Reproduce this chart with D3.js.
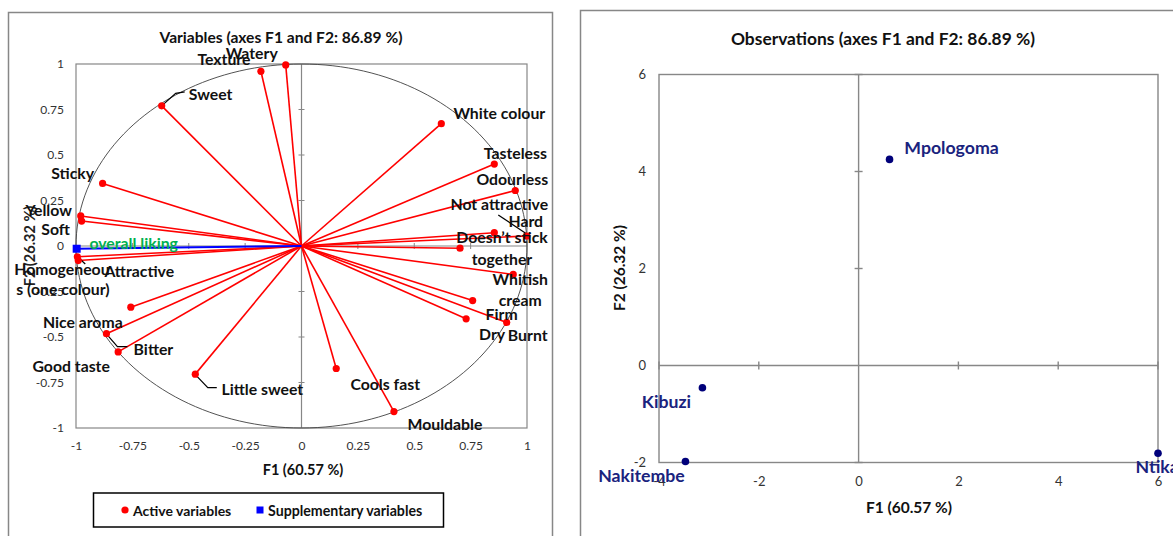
<!DOCTYPE html>
<html>
<head>
<meta charset="utf-8">
<style>
  body { margin: 0; background: #fff; }
  svg { display: block; font-family: Lato, "Liberation Sans", sans-serif; }
</style>
</head>
<body>
<svg id="chart" width="1173" height="536"></svg>
<script src="https://d3js.org/d3.v7.min.js"></script>
<script>
// ---- data ----
const varNames = ["Texture", "Watery", "Sweet", "White colour", "Tasteless", "Odourless",
  "Not attractive", "Hard", "Doesn\u2019t stick together", "Whitish cream", "Firm", "Dry",
  "Burnt", "Mouldable", "Cools fast", "Little sweet", "Good taste", "Bitter", "Nice aroma",
  "Homogeneous (one colour)", "Attractive", "Sticky", "Yellow", "Soft"];
const varF1 = [-0.18, -0.07, -0.62, 0.62, 0.855, 0.948, 0.855, 0.999, 0.703, 0.939, 0.759, 0.73,
  0.91, 0.41, 0.154, -0.471, -0.813, -0.865, -0.757, -0.994, -0.99, -0.882, -0.979, -0.975];
const varF2 = [0.96, 0.995, 0.77, 0.672, 0.45, 0.305, 0.073, 0.055, -0.012, -0.156, -0.30, -0.40,
  -0.42, -0.91, -0.673, -0.704, -0.582, -0.482, -0.336, -0.059, -0.08, 0.344, 0.165, 0.137];
const suppNames = ["overall liking"];
const suppF1 = [-0.997];
const suppF2 = [-0.015];
const obsNames = ["Mpologoma", "Kibuzi", "Nakitembe", "Ntika"];
const obsF1 = [0.62, -3.13, -3.47, 6.0];
const obsF2 = [4.25, -0.46, -1.98, -1.81];
const varTicks = [-1, -0.75, -0.5, -0.25, 0, 0.25, 0.5, 0.75, 1];
const obsXTicks = [-4, -2, 0, 2, 4, 6];
const obsYTicks = [-2, 0, 2, 4, 6];

// label placement (pixel offsets from each point), layout only
const varLabelPos = {
  "Texture": [[-37, -13, "Texture"]],
  "Watery": [[-34, -12, "Watery"]],
  "Sweet": [[49, -12, "Sweet"]],
  "White colour": [[58, -11, "White colour"]],
  "Tasteless": [[21, -12, "Tasteless"]],
  "Odourless": [[-3, -12, "Odourless"]],
  "Not attractive": [[5, -29, "Not attractive"]],
  "Hard": [[-1, -15, "Hard"]],
  "Doesn\u2019t stick together": [[42, -11.5, "Doesn\u2019t stick"], [42, 10, "together"]],
  "Whitish cream": [[7, 4, "Whitish"], [7, 25, "cream"]],
  "Firm": [[29, 13, "Firm"]],
  "Dry": [[26, 14.5, "Dry"]],
  "Burnt": [[21, 12.5, "Burnt"]],
  "Mouldable": [[51, 12, "Mouldable"]],
  "Cools fast": [[49, 15, "Cools fast"]],
  "Little sweet": [[67, 14, "Little sweet"]],
  "Good taste": [[-47, 14, "Good taste"]],
  "Bitter": [[47, 14.5, "Bitter"]],
  "Nice aroma": [[-48, 14, "Nice aroma"]],
  "Homogeneous (one colour)": [[-17, 11.5, "Homogeneou"], [-15, 31.5, "s (one colour)"]],
  "Attractive": [[61, 9.5, "Attractive"]],
  "Sticky": [[-30, -11, "Sticky"]],
  "Yellow": [[-32, -6, "Yellow"]],
  "Soft": [[-26, 7, "Soft"]]
};
const leaders = {
  "Sweet": [[0, 0], [14, -12.5], [23, -14]],
  "Hard": [[-28.5, -21], [0, -2]],
  "Little sweet": [[1, 1.5], [12.5, 13.5], [21.5, 13.5]],
  "Bitter": [[1, 1.5], [11, 13], [21, 13]],
  "Attractive": [[-1, -4], [7, 3.5]]
};
const obsLabelPos = { "Mpologoma": [62, -12, "middle"], "Kibuzi": [-36, 14, "middle"],
  "Nakitembe": [-44, 13.5, "middle"], "Ntika": [-22.5, 13, "start"] };

const svg = d3.select("#chart");
const gridCol = "#878787";
const plainNum = d => String(d);

// ---------------- left panel: variables ----------------
svg.append("rect").attr("x", 8.5).attr("y", 12.5).attr("width", 544).attr("height", 600)
  .attr("fill", "none").attr("stroke", gridCol).attr("stroke-width", 1.5);

const xV = d3.scaleLinear().domain([-1, 1]).range([76, 527]);
const yV = d3.scaleLinear().domain([-1, 1]).range([428, 64]);
const gV = svg.append("g");

gV.append("rect").attr("x", xV(-1)).attr("y", yV(1))
  .attr("width", xV(1) - xV(-1)).attr("height", yV(-1) - yV(1))
  .attr("fill", "none").attr("stroke", gridCol).attr("stroke-width", 1.2);
gV.append("line").attr("x1", xV(-1)).attr("x2", xV(1)).attr("y1", yV(0)).attr("y2", yV(0))
  .attr("stroke", gridCol).attr("stroke-width", 1.2);
gV.append("line").attr("x1", xV(0)).attr("x2", xV(0)).attr("y1", yV(-1)).attr("y2", yV(1))
  .attr("stroke", gridCol).attr("stroke-width", 1.2);
const innerV = varTicks.filter(t => t !== 0 && Math.abs(t) !== 1);
gV.selectAll("line.tx").data(innerV).enter().append("line")
  .attr("x1", d => xV(d)).attr("x2", d => xV(d)).attr("y1", yV(0) - 3).attr("y2", yV(0) + 3)
  .attr("stroke", gridCol);
gV.selectAll("line.ty").data(innerV).enter().append("line")
  .attr("y1", d => yV(d)).attr("y2", d => yV(d)).attr("x1", xV(0) - 3).attr("x2", xV(0) + 3)
  .attr("stroke", gridCol);

// correlation circle
const angles = d3.range(0, 361, 2).map(a => a * Math.PI / 180);
gV.append("path")
  .attr("d", d3.line().x(a => xV(Math.cos(a))).y(a => yV(Math.sin(a)))(angles))
  .attr("fill", "none").attr("stroke", "#404040").attr("stroke-width", 0.9);

// tick labels
const yAxisV = gV.append("g").attr("transform", `translate(${xV(-1)},0)`)
  .call(d3.axisLeft(yV).tickValues(varTicks).tickSize(0).tickPadding(12).tickFormat(plainNum));
const xAxisV = gV.append("g").attr("transform", `translate(0,${yV(-1)})`)
  .call(d3.axisBottom(xV).tickValues(varTicks).tickSize(0).tickPadding(13).tickFormat(plainNum));
[yAxisV, xAxisV].forEach(a => {
  a.select(".domain").remove();
  a.selectAll("text").attr("font-family", "Lato, sans-serif").attr("font-size", 12).attr("fill", "#333");
});

// vectors
const vars = varNames.map((n, i) => ({ name: n, f1: varF1[i], f2: varF2[i] }));
gV.selectAll("line.vec").data(vars).enter().append("line")
  .attr("x1", xV(0)).attr("y1", yV(0)).attr("x2", d => xV(d.f1)).attr("y2", d => yV(d.f2))
  .attr("stroke", "#ff0000").attr("stroke-width", 1.6);
const supp = suppNames.map((n, i) => ({ name: n, f1: suppF1[i], f2: suppF2[i] }));
gV.selectAll("line.sup").data(supp).enter().append("line")
  .attr("x1", xV(0)).attr("y1", yV(0)).attr("x2", d => xV(d.f1)).attr("y2", d => yV(d.f2))
  .attr("stroke", "#0000ff").attr("stroke-width", 2);

// leader lines
vars.filter(d => leaders[d.name]).forEach(d => {
  const pts = leaders[d.name].map(o => [xV(d.f1) + o[0], yV(d.f2) + o[1]]);
  gV.append("path").attr("d", d3.line()(pts)).attr("fill", "none")
    .attr("stroke", "#000").attr("stroke-width", 1.2);
});

gV.selectAll("circle.pt").data(vars).enter().append("circle")
  .attr("cx", d => xV(d.f1)).attr("cy", d => yV(d.f2)).attr("r", 3.6).attr("fill", "#ff0000");
gV.selectAll("rect.sq").data(supp).enter().append("rect")
  .attr("x", d => xV(d.f1) - 4).attr("y", d => yV(d.f2) - 4).attr("width", 8).attr("height", 8)
  .attr("fill", "#0000ff");

// axis titles
gV.append("text").attr("x", 29).attr("y", yV(0)).attr("transform", `rotate(-90,29,${yV(0)})`)
  .attr("text-anchor", "middle").attr("dominant-baseline", "central")
  .attr("font-size", 14.5).attr("font-weight", "bold").attr("fill", "#222").text("F2 (26.32 %)");

// labels
vars.forEach(d => {
  const px = xV(d.f1), py = yV(d.f2);
  const list = varLabelPos[d.name];
  const anchor = d.name.startsWith("Homogeneous") ? "start" : "middle";
  list.forEach(l => {
    const dx = anchor === "start" ? l[0] - 46 : l[0];
    gV.append("text").attr("x", px + dx).attr("y", py + l[1])
      .attr("text-anchor", anchor).attr("dominant-baseline", "central")
      .attr("font-size", 15.8).attr("font-weight", "bold").attr("fill", "#111").text(l[2]);
  });
});
supp.forEach(d => {
  gV.append("text").attr("x", xV(d.f1) + 57).attr("y", yV(d.f2) - 6)
    .attr("text-anchor", "middle").attr("dominant-baseline", "central")
    .attr("font-size", 15.8).attr("font-weight", "bold").attr("fill", "#00b050").text(d.name);
});

gV.append("text").attr("x", 281).attr("y", 37).attr("text-anchor", "middle")
  .attr("dominant-baseline", "central").attr("font-size", 15.6).attr("font-weight", "bold")
  .attr("fill", "#111").text("Variables (axes F1 and F2: 86.89 %)");
gV.append("text").attr("x", 303).attr("y", 469).attr("text-anchor", "middle")
  .attr("dominant-baseline", "central").attr("font-size", 14.5).attr("font-weight", "bold")
  .attr("fill", "#111").text("F1 (60.57 %)");

// legend
const lg = svg.append("g");
lg.append("rect").attr("x", 93.5).attr("y", 493).attr("width", 350).attr("height", 34)
  .attr("fill", "#fff").attr("stroke", "#000").attr("stroke-width", 1.5);
lg.append("circle").attr("cx", 125).attr("cy", 510).attr("r", 3.6).attr("fill", "#ff0000");
lg.append("text").attr("x", 133).attr("y", 510).attr("dominant-baseline", "central")
  .attr("font-size", 14).attr("font-weight", "bold").attr("fill", "#111").text("Active variables");
lg.append("rect").attr("x", 256.5).attr("y", 506.5).attr("width", 7).attr("height", 7).attr("fill", "#0000ff");
lg.append("text").attr("x", 268).attr("y", 510).attr("dominant-baseline", "central")
  .attr("font-size", 14.2).attr("font-weight", "bold").attr("fill", "#111").text("Supplementary variables");

// ---------------- right panel: observations ----------------
svg.append("rect").attr("x", 580.5).attr("y", 10.5).attr("width", 700).attr("height", 600)
  .attr("fill", "none").attr("stroke", gridCol).attr("stroke-width", 1.5);

const xO = d3.scaleLinear().domain([-4, 6]).range([659, 1158]);
const yO = d3.scaleLinear().domain([-2, 6]).range([462.5, 74.5]);
const gO = svg.append("g");
gO.append("rect").attr("x", xO(-4)).attr("y", yO(6))
  .attr("width", xO(6) - xO(-4)).attr("height", yO(-2) - yO(6))
  .attr("fill", "none").attr("stroke", gridCol).attr("stroke-width", 1.4);
gO.append("line").attr("x1", xO(-4)).attr("x2", xO(6)).attr("y1", yO(0)).attr("y2", yO(0))
  .attr("stroke", gridCol).attr("stroke-width", 1.4);
gO.append("line").attr("x1", xO(0)).attr("x2", xO(0)).attr("y1", yO(-2)).attr("y2", yO(6))
  .attr("stroke", gridCol).attr("stroke-width", 1.4);
gO.selectAll("line.tx").data(obsXTicks.filter(t => t !== 0)).enter().append("line")
  .attr("x1", d => xO(d)).attr("x2", d => xO(d)).attr("y1", yO(0) - 4).attr("y2", yO(0) + 4)
  .attr("stroke", gridCol).attr("stroke-width", 1.4);
gO.selectAll("line.ty").data(obsYTicks.filter(t => t !== 0)).enter().append("line")
  .attr("y1", d => yO(d)).attr("y2", d => yO(d)).attr("x1", xO(0) - 4).attr("x2", xO(0) + 4)
  .attr("stroke", gridCol).attr("stroke-width", 1.4);

const yAxisO = gO.append("g").attr("transform", `translate(${xO(-4)},0)`)
  .call(d3.axisLeft(yO).tickValues(obsYTicks).tickSize(0).tickPadding(13).tickFormat(plainNum));
const xAxisO = gO.append("g").attr("transform", `translate(0,${yO(-2)})`)
  .call(d3.axisBottom(xO).tickValues(obsXTicks).tickSize(0).tickPadding(14).tickFormat(plainNum));
[yAxisO, xAxisO].forEach(a => {
  a.select(".domain").remove();
  a.selectAll("text").attr("font-family", "Lato, sans-serif").attr("font-size", 13).attr("fill", "#333");
});

const obs = obsNames.map((n, i) => ({ name: n, f1: obsF1[i], f2: obsF2[i] }));
gO.selectAll("circle.ob").data(obs).enter().append("circle")
  .attr("cx", d => xO(d.f1)).attr("cy", d => yO(d.f2)).attr("r", 3.8).attr("fill", "#00007a");
gO.selectAll("text.ob").data(obs).enter().append("text")
  .attr("x", d => xO(d.f1) + obsLabelPos[d.name][0]).attr("y", d => yO(d.f2) + obsLabelPos[d.name][1])
  .attr("text-anchor", d => obsLabelPos[d.name][2]).attr("dominant-baseline", "central")
  .attr("font-size", 17.7).attr("font-weight", "bold").attr("fill", "#1a237e").text(d => d.name);

gO.append("text").attr("x", 883).attr("y", 38).attr("text-anchor", "middle")
  .attr("dominant-baseline", "central").attr("font-size", 17.4).attr("font-weight", "bold")
  .attr("fill", "#111").text("Observations (axes F1 and F2: 86.89 %)");
gO.append("text").attr("x", 909).attr("y", 507).attr("text-anchor", "middle")
  .attr("dominant-baseline", "central").attr("font-size", 15.5).attr("font-weight", "bold")
  .attr("fill", "#111").text("F1 (60.57 %)");
gO.append("text").attr("x", 619).attr("y", 268).attr("transform", "rotate(-90,619,268)")
  .attr("text-anchor", "middle").attr("dominant-baseline", "central")
  .attr("font-size", 15.5).attr("font-weight", "bold").attr("fill", "#111").text("F2 (26.32 %)");
</script>
</body>
</html>
